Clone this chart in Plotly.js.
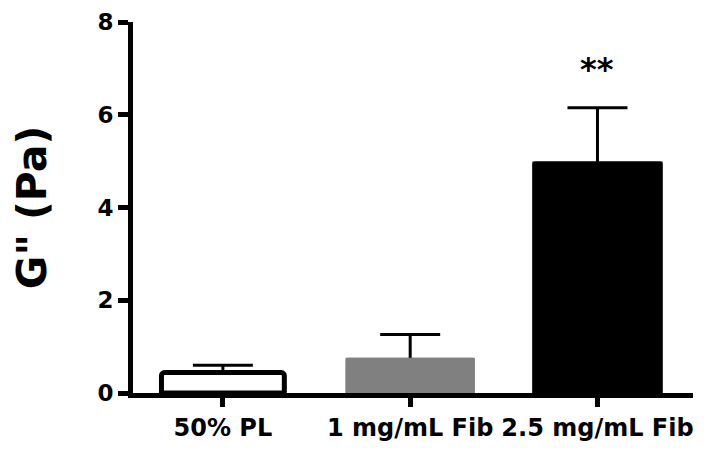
<!DOCTYPE html>
<html>
<head>
<meta charset="utf-8">
<script src="https://cdn.plot.ly/plotly-3.0.1.min.js"></script>
<style>
  body { margin: 0; background: #fff; }
  #chart { width: 704px; height: 453px; }
</style>
</head>
<body>
<div id="chart"></div>
<script>
'use strict'
var groups = ['50% PL', '1 mg/mL Fib', '2.5 mg/mL Fib'];
var means = [0.44, 0.76, 4.99];
var errPlus = [0.16, 0.50, 1.16];
var fills = ['#ffffff', '#808080', '#000000'];
var sigLabel = '**';

var font = 'DejaVu Sans, Verdana, sans-serif';
var barWidths = [0.656, 0.69, 0.695];

// first pass: bars + symmetric error bars, the lower half gets hidden
// by the second pass drawn on top (only the upper whisker shows)
var errTrace = {
  type: 'bar',
  x: [0, 1, 2],
  y: means,
  width: barWidths,
  marker: {color: fills, line: {width: 0}},
  error_y: {
    type: 'data',
    array: errPlus,
    color: '#000000',
    thickness: 3,
    width: 30
  },
  hoverinfo: 'none'
};

var barTrace = {
  type: 'bar',
  x: [0, 1, 2],
  y: means,
  width: barWidths,
  marker: {
    color: fills,
    line: {color: '#000000', width: [5, 0, 0]},
    cornerradius: 3
  },
  hoverinfo: 'none'
};

var layout = {
  width: 704,
  height: 453,
  margin: {l: 133, r: 11, t: 22, b: 60, pad: 0},
  paper_bgcolor: '#ffffff',
  plot_bgcolor: '#ffffff',
  showlegend: false,
  barmode: 'overlay',
  font: {family: font, color: '#000000'},
  xaxis: {
    range: [-0.48, 2.51],
    tickvals: [0, 1, 2],
    ticktext: groups,
    showgrid: false,
    zeroline: false,
    showline: true,
    linecolor: '#000000',
    linewidth: 5,
    ticks: 'outside',
    ticklen: 9,
    tickwidth: 5,
    tickcolor: '#000000',
    tickfont: {family: font, size: 24, color: '#000000', weight: 'bold'}
  },
  yaxis: {
    range: [0, 8],
    tickvals: [0, 2, 4, 6, 8],
    showgrid: false,
    zeroline: false,
    showline: true,
    linecolor: '#000000',
    linewidth: 5,
    ticks: 'outside',
    ticklen: 10,
    tickwidth: 5,
    tickcolor: '#000000',
    tickfont: {family: font, size: 23, color: '#000000', weight: 'bold'},
    title: {
      text: 'G" (Pa)',
      standoff: 40,
      font: {family: font, size: 41, color: '#000000', weight: 'bold'}
    }
  },
  annotations: [{
    x: 2,
    y: 6.98,
    xref: 'x',
    yref: 'y',
    text: sigLabel,
    showarrow: false,
    xanchor: 'center',
    yanchor: 'middle',
    font: {family: font, size: 32, color: '#000000', weight: 'bold'}
  }]
};

Plotly.newPlot('chart', [errTrace, barTrace], layout, {displayModeBar: false, staticPlot: true});
</script>
</body>
</html>
